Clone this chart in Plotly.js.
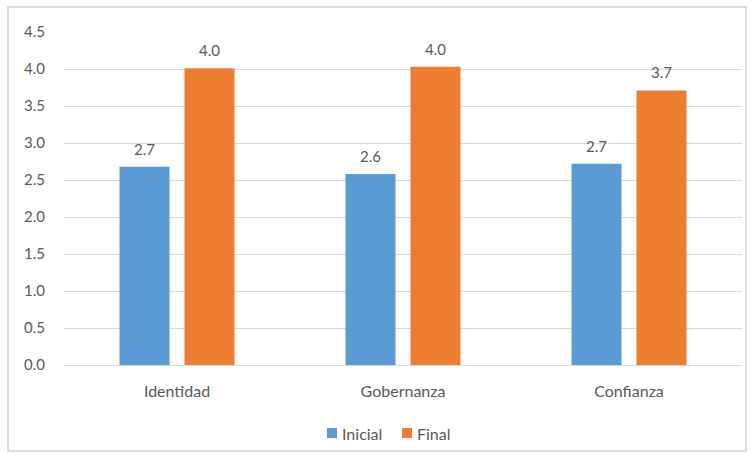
<!DOCTYPE html>
<html>
<head>
<meta charset="utf-8">
<script src="https://cdn.plot.ly/plotly-3.0.1.min.js"></script>
<style>
  html, body { margin: 0; padding: 0; background: #fff; }
  #chart { width: 751px; height: 454px; }
</style>
</head>
<body>
<div id="chart"></div>
<script>
const categories = ["Identidad", "Gobernanza", "Confianza"];
const inicialValues = [2.68, 2.58, 2.72];
const finalValues = [4.01, 4.03, 3.71];
const seriesNames = ["Inicial", "Final"];
const seriesColors = ["#5B9BD5", "#ED7D31"];
const yTickVals = [0, 0.5, 1, 1.5, 2, 2.5, 3, 3.5, 4, 4.5];
const yTickText = ["0.0", "0.5", "1.0", "1.5", "2.0", "2.5", "3.0", "3.5", "4.0", "4.5"];

const fontFam = "Lato, 'Open Sans', sans-serif";
const gray = "#595959";

// plot area geometry (pixels)
const L = 64, R = 742, T = 32, B = 365;
const px = x => (x - L) / (R - L);
const py = y => (B - y) / (B - T);

const traces = [
  { type: "bar", name: seriesNames[0], x: categories, y: inicialValues,
    marker: { color: seriesColors[0] }, hoverinfo: "skip", showlegend: false },
  { type: "bar", name: seriesNames[1], x: categories, y: finalValues,
    marker: { color: seriesColors[1] }, hoverinfo: "skip", showlegend: false }
];

const annotations = [];
[inicialValues, finalValues].forEach((vals, si) => {
  vals.forEach((v, i) => {
    annotations.push({
      x: categories[i], y: v, xref: "x", yref: "y",
      text: v.toFixed(1), showarrow: false,
      xshift: si === 0 ? -32.5 : 32.5, yshift: 18,
      font: { family: fontFam, size: 15, color: gray }
    });
  });
});

// manual legend
const legendSquareX = [327, 402];
const legendTextX = [340, 415];
const legendY = 433;
const shapes = [{
  type: "rect", xref: "paper", yref: "paper",
  x0: px(8), x1: px(746), y0: py(451), y1: py(7),
  line: { color: "#d0d0d0", width: 1.5 }, fillcolor: "rgba(0,0,0,0)", layer: "below"
}];
seriesNames.forEach((name, i) => {
  shapes.push({
    type: "rect", xref: "paper", yref: "paper",
    x0: px(legendSquareX[i]), x1: px(legendSquareX[i] + 10),
    y0: py(legendY + 5), y1: py(legendY - 5),
    line: { width: 0 }, fillcolor: seriesColors[i]
  });
  annotations.push({
    xref: "paper", yref: "paper", x: px(legendTextX[i]), y: py(legendY),
    xanchor: "left", yanchor: "middle", text: name, showarrow: false,
    font: { family: fontFam, size: 16, color: gray }
  });
});

const layout = {
  width: 751, height: 454,
  margin: { l: L, r: 751 - R, t: T, b: 454 - B },
  paper_bgcolor: "#fff", plot_bgcolor: "#fff",
  barmode: "group", bargap: 0.425, bargroupgap: 0.23,
  font: { family: fontFam, size: 13, color: gray },
  showlegend: false,
  xaxis: {
    automargin: false,
    showgrid: false, showline: false, zeroline: false,
    ticks: "outside", ticklen: 12, tickcolor: "rgba(0,0,0,0)",
    tickfont: { family: fontFam, size: 16, color: gray }
  },
  yaxis: {
    automargin: false,
    range: [0, 4.5], tickvals: yTickVals, ticktext: yTickText,
    showgrid: true, gridcolor: "#d9d9d9", gridwidth: 1,
    zeroline: true, zerolinecolor: "#d9d9d9", zerolinewidth: 1,
    showline: false, ticks: "outside", ticklen: 15, tickcolor: "rgba(0,0,0,0)",
    tickfont: { family: fontFam, size: 15, color: gray }
  },
  annotations: annotations,
  shapes: shapes
};

Plotly.newPlot("chart", traces, layout, { displayModeBar: false, staticPlot: true });
</script>
</body>
</html>
